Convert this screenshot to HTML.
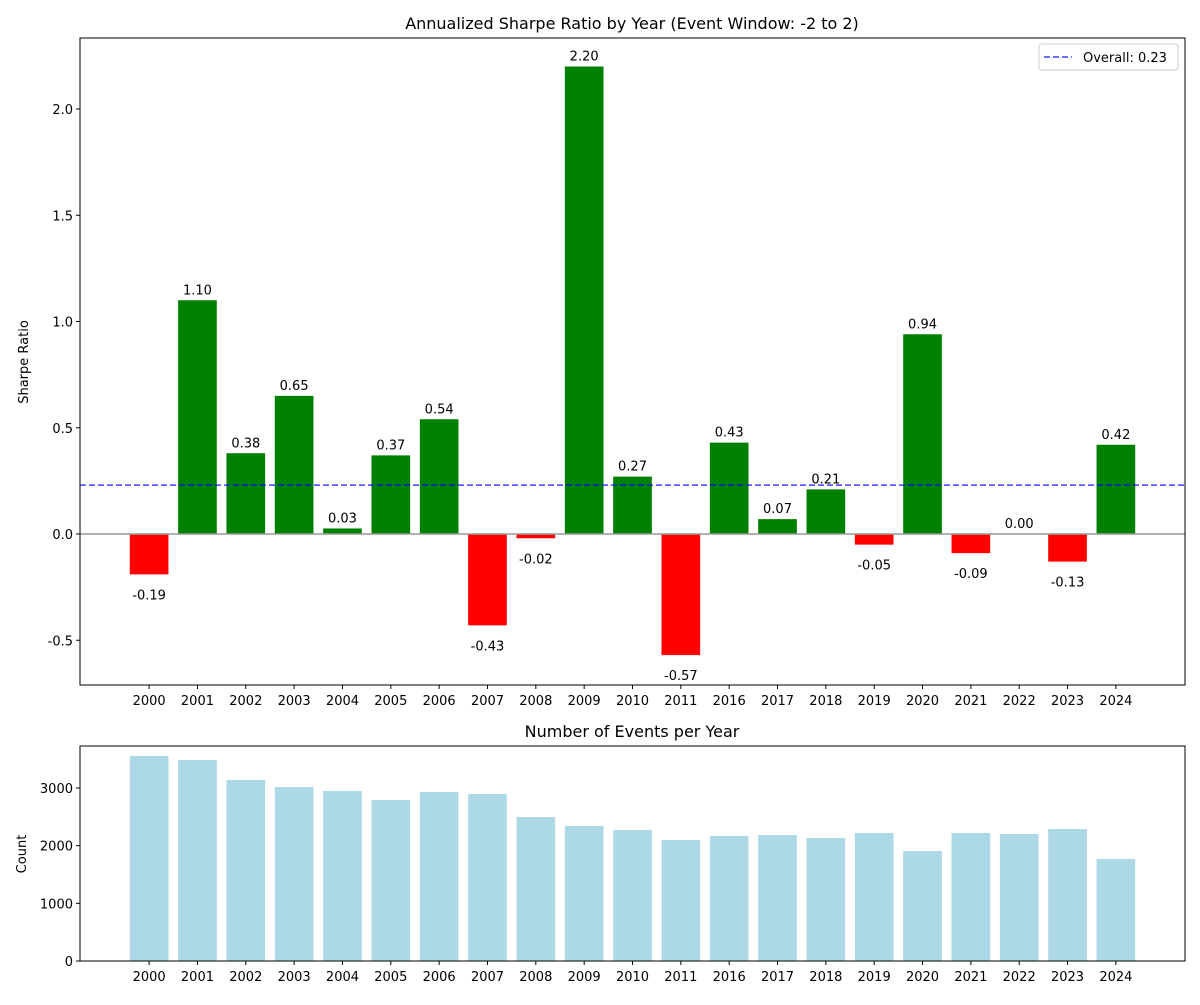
<!DOCTYPE html>
<html><head><meta charset="utf-8"><style>
body{margin:0;background:#fff;font-family:"Liberation Sans","DejaVu Sans",sans-serif}
svg text{font-family:"DejaVu Sans","Liberation Sans",sans-serif}
</style></head><body>
<svg id="c" width="1200" height="1000" xmlns="http://www.w3.org/2000/svg"></svg>
<script>
const years=["2000","2001","2002","2003","2004","2005","2006","2007","2008","2009","2010","2011","2016","2017","2018","2019","2020","2021","2022","2023","2024"];
const sharpe=[-0.19,1.10,0.38,0.65,0.026,0.37,0.54,-0.43,-0.02,2.20,0.27,-0.57,0.43,0.07,0.21,-0.05,0.94,-0.09,0.00,-0.13,0.42];
const counts=[3555,3485,3139,3017,2948,2792,2930,2896,2497,2341,2272,2098,2167,2185,2133,2220,1907,2220,2202,2289,1769];
const overall=0.23;
const sharpeTicks=[-0.5,0,0.5,1.0,1.5,2.0];
const countTicks=[0,1000,2000,3000];
const svg=document.getElementById('c');
const NS='http://www.w3.org/2000/svg';
function mk(t,a,txt){const e=document.createElementNS(NS,t);for(const k in a)e.setAttribute(k,a[k]);if(txt!==undefined)e.textContent=txt;svg.appendChild(e);return e;}
const L=80,R=1185;
const x=i=>L+(i+1.43)*(R-L)/(20+2.86);
const bw=0.8*(R-L)/22.86;
const T1=38,B1=685;
const y1=v=>534-v*212.5;
const y2=v=>961-v*0.05767;
let e;
e=mk('text',{x:632,y:29,'text-anchor':'middle','font-size':16},'Annualized Sharpe Ratio by Year (Event Window: -2 to 2)');

sharpe.forEach((v,i)=>{
  const top=Math.min(y1(v),y1(0)),h=Math.abs(y1(v)-y1(0));
  e=mk('rect',{x:x(i)-bw/2,y:top,width:bw,height:h,fill:v>=0?'#008000':'#ff0000'});
  
  const ty=v>=0?y1(v)-6:y1(v)+25;
  e=mk('text',{x:x(i),y:ty,'text-anchor':'middle','font-size':13},v.toFixed(2));
  
});
e=mk('line',{x1:L,x2:R,y1:y1(0),y2:y1(0),stroke:'#999','stroke-width':1.5});

e=mk('line',{x1:L,x2:R,y1:y1(overall),y2:y1(overall),stroke:'#0000ff','stroke-opacity':0.75,'stroke-width':1.5,'stroke-dasharray':'6,3'});

e=mk('rect',{x:L,y:T1,width:R-L,height:B1-T1,fill:'none',stroke:'#000','stroke-width':1});

sharpeTicks.forEach(v=>{
  mk('line',{x1:L-4,x2:L,y1:y1(v),y2:y1(v),stroke:'#000'});
  e=mk('text',{x:L-7,y:y1(v)+5,'text-anchor':'end','font-size':13},v.toFixed(1));
  
});
e=mk('text',{x:28,y:362,'text-anchor':'middle','font-size':13,transform:'rotate(-90 28 362)'},'Sharpe Ratio');

years.forEach((yr,i)=>{
  mk('line',{x1:x(i),x2:x(i),y1:B1,y2:B1+4,stroke:'#000'});
  e=mk('text',{x:x(i),y:B1+20,'text-anchor':'middle','font-size':13},yr);
  
});
e=mk('rect',{x:1039,y:44,width:139,height:26,fill:'#fff',stroke:'#ccc',rx:3});

mk('line',{x1:1044,x2:1072,y1:57,y2:57,stroke:'#0000ff','stroke-opacity':0.75,'stroke-width':1.5,'stroke-dasharray':'6,3'});
e=mk('text',{x:1083,y:62,'font-size':13},'Overall: 0.23');

const T2=746,B2=961;
e=mk('text',{x:632,y:737,'text-anchor':'middle','font-size':16},'Number of Events per Year');

counts.forEach((v,i)=>{
  e=mk('rect',{x:x(i)-bw/2,y:y2(v),width:bw,height:y2(0)-y2(v),fill:'#add8e6'});
  
});
e=mk('rect',{x:L,y:T2,width:R-L,height:B2-T2,fill:'none',stroke:'#000','stroke-width':1});

countTicks.forEach(v=>{
  mk('line',{x1:L-4,x2:L,y1:y2(v),y2:y2(v),stroke:'#000'});
  e=mk('text',{x:L-7,y:y2(v)+5,'text-anchor':'end','font-size':13},String(v));
  
});
e=mk('text',{x:26,y:854,'text-anchor':'middle','font-size':13,transform:'rotate(-90 26 854)'},'Count');

years.forEach((yr,i)=>{
  mk('line',{x1:x(i),x2:x(i),y1:B2,y2:B2+4,stroke:'#000'});
  e=mk('text',{x:x(i),y:B2+20,'text-anchor':'middle','font-size':13},yr);
  
});
</script>
</body></html>
